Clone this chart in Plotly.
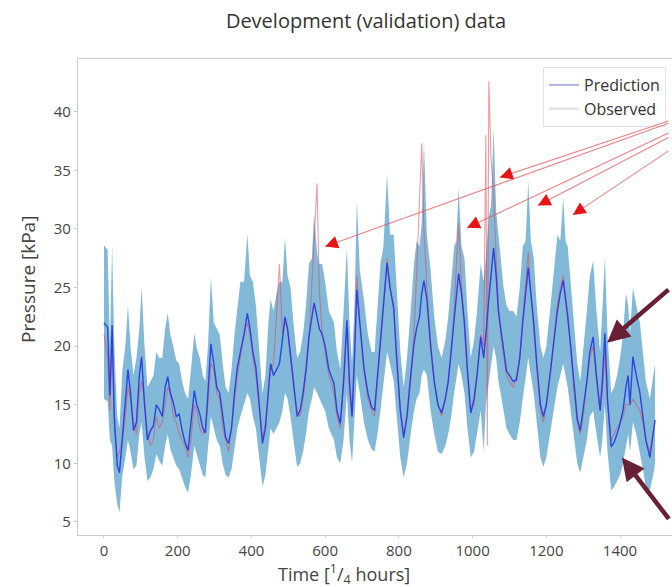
import plotly.graph_objects as go

# ---- data (time in 1/4 hours, pressure in kPa) ----
time = [0, 10, 16, 22, 28, 36, 42, 50, 58, 65, 72, 80, 88, 96, 102, 110, 118, 126, 134, 142,
        150, 158, 166, 173, 180, 188, 196, 204, 212, 220, 228, 236, 245, 252, 260, 268, 275, 282, 290, 298,
        306, 314, 322, 330, 338, 346, 354, 362, 370, 380, 389, 396, 404, 412, 420, 430, 438, 446, 452, 460,
        468, 476, 484, 491, 498, 506, 514, 524, 532, 540, 548, 556, 564, 570, 578, 584, 592, 600, 610, 624,
        632, 641, 650, 659, 666, 673, 680, 686, 694, 705, 716, 726, 734, 742, 750, 758, 768, 776, 786, 794,
        804, 813, 822, 832, 841, 848, 856, 862, 868, 876, 886, 896, 906, 916, 926, 934, 942, 950, 956, 962,
        970, 978, 986, 995, 1004, 1012, 1022, 1030, 1036, 1040, 1044, 1050, 1057, 1064, 1070, 1076, 1084, 1092, 1100, 1110,
        1119, 1128, 1136, 1144, 1151, 1158, 1166, 1174, 1184, 1192, 1200, 1210, 1220, 1230, 1238, 1246, 1252, 1258, 1266, 1274,
        1284, 1292, 1300, 1310, 1318, 1327, 1336, 1346, 1352, 1359, 1366, 1376, 1384, 1392, 1400, 1408, 1416, 1422, 1427, 1435,
        1444, 1454, 1462, 1470, 1481, 1490, 1495]

prediction = [22.0, 21.6, 15.8, 21.8, 14.0, 9.8, 9.2, 12.5, 15.0, 18.0, 16.0, 12.8, 13.5, 17.5, 19.1, 15.0, 12.0, 12.8, 13.2, 15.0,
              14.6, 14.0, 16.5, 17.4, 16.0, 15.2, 14.0, 14.2, 12.8, 11.8, 11.1, 13.5, 16.2, 15.0, 14.2, 13.0, 12.6, 16.0, 20.2, 18.5,
              16.5, 16.0, 14.0, 12.2, 11.7, 13.0, 16.0, 18.2, 19.5, 21.0, 22.8, 21.5, 19.5, 18.2, 15.5, 11.7, 13.0, 16.5, 18.5, 17.5,
              18.0, 18.5, 20.5, 22.5, 21.5, 19.5, 17.0, 14.0, 14.5, 16.0, 18.0, 20.8, 22.5, 23.7, 22.5, 21.5, 21.0, 20.0, 18.0, 16.8,
              14.5, 13.4, 17.0, 22.2, 17.0, 14.0, 19.5, 24.8, 22.0, 18.2, 16.0, 14.8, 14.5, 17.5, 20.5, 23.5, 27.1, 25.0, 23.3, 19.0,
              14.5, 12.2, 14.0, 17.5, 20.2, 21.5, 22.5, 24.5, 25.6, 24.0, 20.0, 17.0, 15.0, 14.3, 15.5, 17.0, 19.5, 22.0, 24.5, 26.2,
              24.5, 22.0, 18.0, 14.3, 15.5, 17.5, 20.8, 19.0, 21.0, 23.0, 24.0, 26.0, 28.4, 26.0, 23.0, 21.6, 19.5, 17.9, 17.5, 17.0,
              17.1, 19.0, 22.0, 24.5, 26.7, 24.5, 22.0, 18.5, 15.0, 14.0, 15.0, 17.5, 20.5, 23.0, 24.5, 25.6, 24.0, 22.5, 20.0, 17.0,
              13.8, 12.8, 14.5, 17.0, 19.5, 20.8, 17.5, 14.5, 17.0, 21.1, 15.5, 11.4, 11.8, 12.5, 13.4, 14.5, 16.5, 17.5, 15.0, 19.1,
              17.5, 16.0, 14.0, 12.0, 10.5, 12.5, 13.7]

upper = [28.6, 28.2, 20.0, 28.6, 20.0, 14.0, 13.0, 18.0, 20.0, 23.5, 20.0, 17.5, 19.0, 21.5, 25.0, 20.0, 16.5, 17.0, 17.5, 19.5,
         19.0, 19.0, 21.5, 22.8, 21.0, 20.0, 18.8, 18.5, 17.0, 16.0, 15.5, 18.0, 21.1, 19.8, 19.0, 17.5, 17.0, 20.0, 25.9, 22.0,
         21.5, 21.0, 18.5, 16.5, 16.0, 18.0, 21.0, 23.5, 25.5, 25.5, 29.6, 26.0, 25.5, 23.5, 20.5, 16.0, 17.5, 22.0, 24.0, 23.0,
         24.5, 25.5, 25.5, 29.3, 26.0, 25.0, 22.0, 19.0, 19.5, 21.0, 23.5, 27.0, 27.5, 31.3, 28.0, 27.0, 27.0, 25.5, 23.0, 22.0,
         19.5, 18.0, 23.0, 28.4, 22.0, 18.5, 24.0, 32.4, 26.5, 24.0, 21.0, 19.5, 19.5, 23.0, 27.0, 28.5, 34.7, 29.5, 29.5, 25.0,
         19.5, 16.5, 19.0, 23.0, 27.0, 29.0, 28.5, 30.5, 37.5, 29.5, 26.5, 22.5, 20.0, 19.0, 20.5, 22.5, 25.5, 28.5, 29.0, 33.5,
         28.5, 27.5, 23.0, 19.0, 20.5, 23.0, 27.0, 25.5, 27.5, 29.5, 31.0, 32.0, 38.6, 31.5, 29.5, 27.5, 25.0, 23.5, 23.0, 23.0,
         22.5, 25.0, 28.5, 29.0, 34.1, 29.0, 27.5, 23.5, 20.0, 19.0, 20.0, 23.0, 26.5, 29.5, 29.0, 32.7, 29.0, 28.5, 25.5, 22.0,
         18.5, 17.0, 19.5, 23.0, 26.0, 27.3, 23.0, 19.5, 23.0, 27.6, 21.0, 16.0, 16.5, 17.5, 19.0, 21.0, 24.5, 23.5, 21.0, 25.0,
         23.5, 22.0, 19.5, 17.0, 15.5, 17.5, 18.5]

lower = [15.5, 15.3, 12.0, 11.5, 8.5, 6.5, 5.8, 9.0, 10.5, 12.0, 11.0, 9.5, 9.8, 12.5, 13.5, 10.5, 8.5, 8.8, 9.5, 10.8,
         10.2, 9.8, 11.5, 12.5, 11.2, 10.5, 9.8, 9.5, 8.8, 8.0, 7.5, 9.0, 11.5, 10.8, 10.0, 9.0, 8.8, 11.5, 14.0, 13.0,
         12.0, 11.5, 10.0, 9.0, 8.8, 9.5, 11.5, 13.0, 14.0, 15.0, 16.0, 15.5, 14.0, 13.0, 11.0, 8.0, 9.0, 11.5, 13.0, 12.5,
         13.0, 13.5, 14.5, 16.0, 15.5, 14.0, 12.0, 9.7, 10.0, 11.0, 12.5, 14.5, 15.5, 16.5, 16.0, 15.5, 15.0, 14.5, 13.0, 12.0,
         10.5, 10.0, 12.0, 16.0, 12.0, 10.0, 14.0, 17.5, 16.0, 13.5, 12.0, 11.2, 11.0, 12.5, 14.5, 16.5, 19.5, 18.5, 17.0, 14.0,
         10.5, 8.8, 10.0, 12.5, 14.5, 15.5, 16.0, 17.5, 18.0, 17.5, 14.5, 12.5, 11.0, 10.8, 11.5, 12.5, 14.0, 16.0, 17.5, 18.5,
         17.5, 16.0, 13.0, 10.5, 11.0, 12.5, 14.5, 11.0, 15.0, 16.0, 17.0, 18.5, 20.0, 19.0, 17.0, 16.0, 14.5, 13.0, 12.5, 12.0,
         12.0, 13.5, 15.5, 17.5, 19.0, 17.5, 16.0, 13.5, 10.5, 9.7, 10.5, 12.5, 14.5, 16.5, 17.5, 18.5, 17.5, 16.5, 14.5, 12.5,
         10.0, 9.2, 10.5, 12.0, 14.0, 14.5, 12.5, 10.5, 12.0, 15.0, 11.0, 7.7, 8.0, 8.5, 9.0, 10.0, 11.5, 12.5, 11.0, 13.5,
         12.5, 11.0, 9.5, 8.0, 7.7, 9.0, 10.0]

observed = [21.0, 19.0, 14.5, 20.5, 13.0, 10.5, 11.0, 12.0, 14.0, 16.5, 15.5, 13.5, 12.5, 16.0, 17.0, 15.5, 12.5, 11.5, 12.0, 14.0,
            13.0, 13.5, 15.0, 16.5, 16.0, 14.0, 13.5, 12.5, 12.0, 11.5, 10.5, 12.0, 15.0, 14.5, 13.0, 12.5, 13.0, 15.0, 18.5, 18.0,
            16.0, 15.5, 13.0, 12.0, 11.0, 13.0, 15.5, 17.5, 19.0, 21.0, 22.0, 21.0, 19.0, 17.5, 15.0, 12.0, 13.5, 16.0, 18.0, 18.5,
            23.0, 27.0, 21.0, 22.0, 21.5, 19.0, 16.5, 14.5, 14.0, 15.5, 17.5, 20.5, 25.0, 29.0, 33.9, 25.0, 21.0, 19.5, 17.5, 16.0,
            14.0, 13.0, 16.5, 21.5, 16.0, 14.0, 19.0, 26.0, 22.0, 18.0, 15.5, 14.5, 14.0, 17.0, 20.0, 23.0, 27.5, 25.0, 23.0, 19.0,
            14.5, 12.5, 14.0, 17.0, 21.0, 26.0, 33.0, 37.3, 30.0, 25.0, 20.5, 17.0, 15.0, 14.0, 15.5, 17.0, 19.5, 23.0, 27.0, 30.5,
            25.0, 21.5, 17.5, 14.5, 15.0, 17.5, 21.0, 20.0, 38.0, 11.5, 42.6, 36.0, 33.0, 27.5, 23.5, 21.0, 19.0, 17.5, 17.0, 16.5,
            17.5, 19.0, 22.5, 25.5, 28.0, 24.5, 21.5, 18.0, 14.5, 13.5, 15.0, 17.5, 20.5, 23.5, 25.0, 26.0, 24.5, 23.0, 20.0, 16.5,
            13.5, 12.5, 14.0, 17.0, 19.0, 20.0, 17.0, 14.5, 16.0, 19.5, 15.0, 12.0, 12.5, 13.0, 13.5, 14.0, 15.0, 15.0, 15.0, 15.5,
            15.0, 14.5, 13.5, 12.0, 11.0, 12.5, 13.5]

# red arrow targets (peaks where observed exceeds prediction)
red_arrow_t = [600, 1074, 985, 1177, 1272]
red_arrow_p = [28.5, 34.4, 30.1, 32.0, 31.2]
# dark arrow targets
dark_arrow_t = [1365, 1405]
dark_arrow_p = [20.3, 10.5]

x_ticks = [0, 200, 400, 600, 800, 1000, 1200, 1400]
y_ticks = [5, 10, 15, 20, 25, 30, 35, 40]

# ---- pixel geometry helpers for arrows ----
L, T, W, H = 78, 59, 594, 476
XR = [-70.5, 1541]
YR = [3.89, 44.5]
EDGE = 670  # arrows leave the picture at its right edge


def px(t):
    return L + (t - XR[0]) / (XR[1] - XR[0]) * W


def py(v):
    return T + (YR[1] - v) / (YR[1] - YR[0]) * H


fig = go.Figure()

fig.add_trace(go.Scatter(x=time, y=lower, mode="lines", line=dict(width=0, color="rgba(0,0,0,0)"),
                         showlegend=False, hoverinfo="skip"))
fig.add_trace(go.Scatter(x=time, y=upper, mode="lines", line=dict(width=0, color="rgba(0,0,0,0)"),
                         fill="tonexty", fillcolor="rgb(130,185,217)", showlegend=False, hoverinfo="skip"))
fig.add_trace(go.Scatter(x=time, y=observed, mode="lines", line=dict(width=1.1, color="rgba(228,70,85,0.55)"),
                         showlegend=False))
fig.add_trace(go.Scatter(x=time, y=prediction, mode="lines", line=dict(width=1.4, color="rgba(35,55,225,0.9)"),
                         showlegend=False))

# legend entries (faded as in the picture)
fig.add_trace(go.Scatter(x=[None], y=[None], mode="lines", name="Prediction",
                         line=dict(width=2, color="rgb(176,180,226)")))
fig.add_trace(go.Scatter(x=[None], y=[None], mode="lines", name="Observed",
                         line=dict(width=2, color="rgb(226,222,228)")))

annotations = []
source = (758, 91)  # common (off-picture) origin of the red arrows
for t, v in zip(red_arrow_t, red_arrow_p):
    hx, hy = px(t), py(v)
    sx, sy = source[0] - hx, source[1] - hy
    dx = EDGE - hx
    dy = sy * dx / sx
    annotations.append(dict(x=t, y=v, xref="x", yref="y", ax=dx, ay=dy, text="", showarrow=True,
                            arrowhead=0, arrowwidth=1.1, arrowcolor="rgba(225,90,95,0.75)"))
    n = (sx * sx + sy * sy) ** 0.5
    annotations.append(dict(x=t, y=v, xref="x", yref="y", ax=sx / n * 13, ay=sy / n * 13, text="",
                            showarrow=True, arrowhead=2, arrowwidth=1.6, arrowsize=1.6,
                            arrowcolor="rgb(230,20,20)"))

dark_dirs = [(103, -89), (78, 102)]
for (t, v), (ddx, ddy) in zip(zip(dark_arrow_t, dark_arrow_p), dark_dirs):
    hx = px(t)
    dx = EDGE - hx
    dy = ddy * dx / ddx
    annotations.append(dict(x=t, y=v, xref="x", yref="y", ax=dx, ay=dy, text="", showarrow=True,
                            arrowhead=2, arrowwidth=4.5, arrowsize=1.0, arrowcolor="rgb(104,32,52)"))

annotations.append(dict(text="Pressure [kPa]", xref="paper", yref="paper", x=(28 - L) / W, y=1 - (280 - T) / H,
                        textangle=-90, showarrow=False, xanchor="center", yanchor="middle",
                        font=dict(size=19, color="#444", family="Open Sans")))
annotations.append(dict(text="Time [<sup>1</sup>/<sub>4</sub> hours]", xref="paper", yref="paper",
                        x=(344 - L) / W, y=1 - (574 - T) / H, showarrow=False, xanchor="center", yanchor="middle",
                        font=dict(size=18, color="#444", family="Open Sans")))

fig.update_layout(
    width=672, height=587,
    margin=dict(l=L, r=0, t=T, b=587 - T - H),
    paper_bgcolor="white", plot_bgcolor="white",
    title=dict(text="Development (validation) data", x=366 / 672, y=1 - 21 / 587, xanchor="center",
               yanchor="middle", font=dict(size=20, color="#333", family="Open Sans")),
    font=dict(family="Open Sans", color="#444"),
    showlegend=True,
    legend=dict(x=(543 - L) / W, y=1 - (67 - T) / H, xanchor="left", yanchor="top", traceorder="normal",
                bgcolor="rgba(255,255,255,0.85)", bordercolor="#e2e2e2", borderwidth=1,
                font=dict(size=16, color="#333", family="Open Sans"), tracegroupgap=0, itemwidth=30),
    annotations=annotations,
)
fig.update_xaxes(range=XR, tickvals=x_ticks, showgrid=False, zeroline=False, showline=True, linecolor="#cccccc",
                 linewidth=1.3, mirror=True, ticks="outside", ticklen=2, tickcolor="#cccccc",
                 tickfont=dict(size=15, color="#444", family="Open Sans"))
fig.update_yaxes(range=YR, tickvals=y_ticks, showgrid=False, zeroline=False, showline=True, linecolor="#cccccc",
                 linewidth=1.3, mirror=True, ticks="outside", ticklen=3, tickcolor="#cccccc",
                 tickfont=dict(size=15, color="#444", family="Open Sans"))

fig.write_html("out.html")
